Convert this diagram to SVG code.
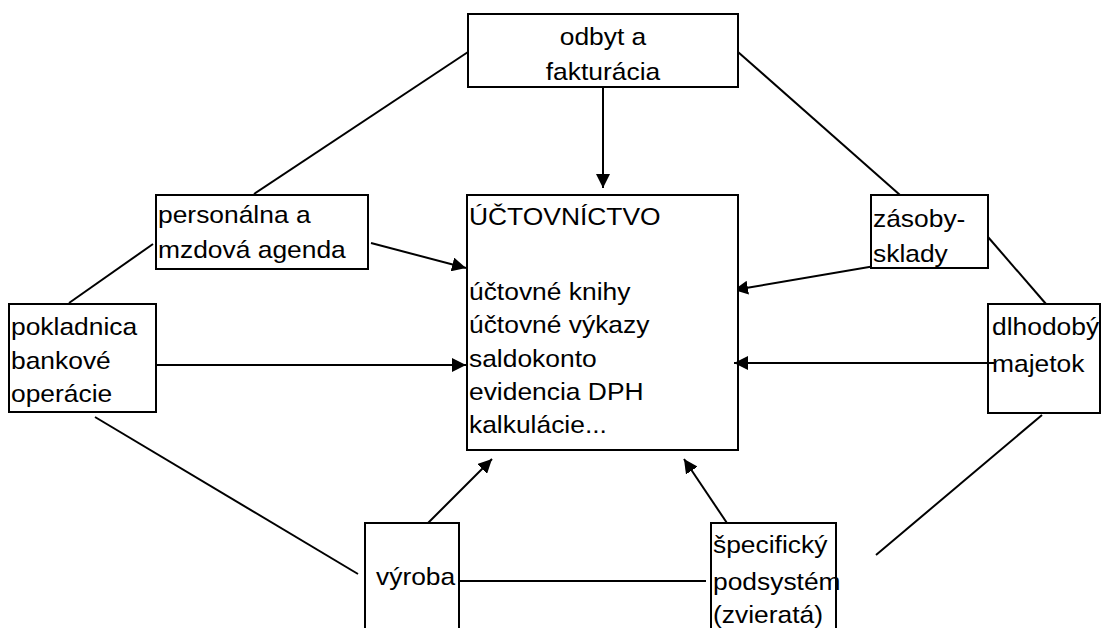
<svg xmlns="http://www.w3.org/2000/svg" width="1101" height="628" viewBox="0 0 1101 628">
<style>
.box{fill:#fff;stroke:#000;stroke-width:2}
.ln{stroke:#000;stroke-width:2;fill:none}
.t{font-family:"Liberation Sans",Arial,sans-serif;font-size:24px;fill:#000}
.c{text-anchor:middle}
</style>
<defs>
<marker id="ah" viewBox="0 0 14 14" refX="14" refY="7" markerWidth="14" markerHeight="14" markerUnits="userSpaceOnUse" orient="auto">
<path d="M0,0 L14,7 L0,14 Z" fill="#000"/>
</marker>
</defs>
<rect width="1101" height="628" fill="#fff"/>
<g id="connectors">
<line class="ln" x1="603" y1="87" x2="603" y2="188" marker-end="url(#ah)"/>
<line class="ln" x1="468" y1="52" x2="254" y2="194"/>
<line class="ln" x1="738" y1="52" x2="900" y2="195"/>
<line class="ln" x1="371" y1="243" x2="466" y2="268" marker-end="url(#ah)"/>
<line class="ln" x1="153" y1="244" x2="69" y2="303"/>
<line class="ln" x1="156" y1="365" x2="466" y2="365" marker-end="url(#ah)"/>
<line class="ln" x1="95" y1="417" x2="358" y2="574"/>
<line class="ln" x1="419" y1="532" x2="492" y2="459" marker-end="url(#ah)"/>
<line class="ln" x1="459" y1="581" x2="706" y2="581"/>
<line class="ln" x1="733" y1="532" x2="684" y2="459" marker-end="url(#ah)"/>
<line class="ln" x1="876" y1="555" x2="1042" y2="415"/>
<line class="ln" x1="875" y1="266" x2="734" y2="290" marker-end="url(#ah)"/>
<line class="ln" x1="988" y1="237" x2="1046" y2="304"/>
</g>
<g id="odbyt">
<rect class="box" x="468" y="14" width="270" height="73"/>
<text class="t c" transform="translate(603,45) scale(1.1,1)">odbyt a</text>
<text class="t c" transform="translate(603,80) scale(1.1,1)">fakturácia</text>
</g>
<g id="uctovnictvo">
<rect class="box" x="467" y="195" width="271" height="255"/>
<text class="t" transform="translate(469,225) scale(1.1,1)">ÚČTOVNÍCTVO</text>
<text class="t" transform="translate(469,300) scale(1.1,1)">účtovné knihy</text>
<text class="t" transform="translate(469,333) scale(1.1,1)">účtovné výkazy</text>
<text class="t" transform="translate(469,367) scale(1.1,1)">saldokonto</text>
<text class="t" transform="translate(469,400) scale(1.1,1)">evidencia DPH</text>
<text class="t" transform="translate(469,433) scale(1.1,1)">kalkulácie...</text>
</g>
<g id="personalna">
<rect class="box" x="156" y="195" width="212" height="74"/>
<text class="t" transform="translate(158,223) scale(1.1,1)">personálna a</text>
<text class="t" transform="translate(158,258) scale(1.1,1)">mzdová agenda</text>
</g>
<g id="pokladnica">
<rect class="box" x="9" y="304" width="147" height="108"/>
<text class="t" transform="translate(11,335) scale(1.1,1)">pokladnica</text>
<text class="t" transform="translate(11,369) scale(1.1,1)">bankové</text>
<text class="t" transform="translate(11,402) scale(1.1,1)">operácie</text>
</g>
<g id="zasoby">
<rect class="box" x="871" y="195" width="117" height="73"/>
<text class="t" transform="translate(873,227) scale(1.1,1)">zásoby-</text>
<text class="t" transform="translate(873,262) scale(1.1,1)">sklady</text>
</g>
<g id="dlhodoby">
<line class="ln" x1="994" y1="363" x2="734" y2="363" marker-end="url(#ah)"/>
<rect class="box" x="988" y="304" width="112" height="109" style="fill:none"/>
<text class="t" transform="translate(992,335) scale(1.1,1)">dlhodobý</text>
<text class="t" transform="translate(992,372) scale(1.1,1)">majetok</text>
</g>
<g id="vyroba">
<rect class="box" x="365" y="523" width="94" height="120"/>
<text class="t" transform="translate(376,585) scale(1.1,1)">výroba</text>
</g>
<g id="specificky">
<rect class="box" x="711" y="523" width="125" height="120"/>
<text class="t" transform="translate(713,553) scale(1.1,1)">špecifický</text>
<text class="t" transform="translate(713,590) scale(1.1,1)">podsystém</text>
<text class="t" transform="translate(713,623) scale(1.1,1)">(zvieratá)</text>
</g>
</svg>
